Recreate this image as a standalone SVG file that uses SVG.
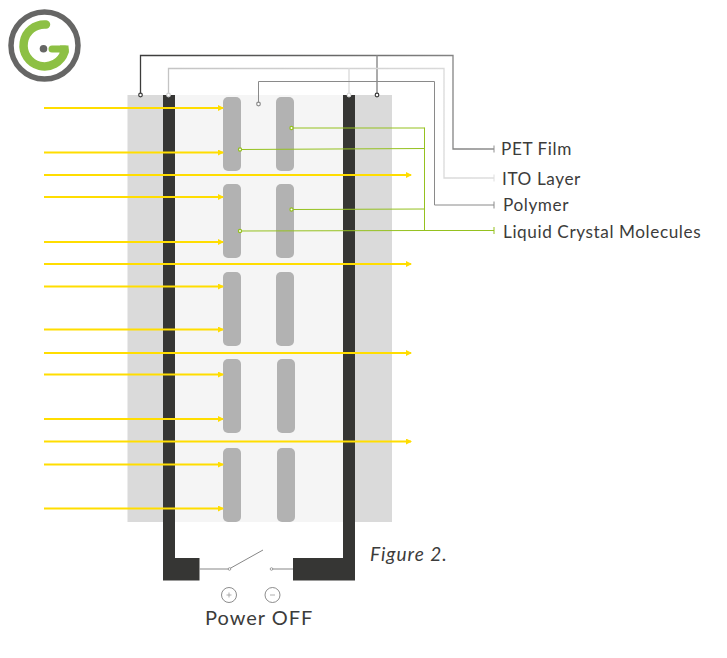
<svg xmlns="http://www.w3.org/2000/svg" width="727" height="658" viewBox="0 0 727 658">
<style>
.ray{stroke:#ffdd00;stroke-width:2;fill:none}
.mol{fill:#b2b2b2}
.dark{fill:#363634}
.g{stroke:#95c11f;stroke-width:1;fill:none}
.lbl{font-family:Lato,"Liberation Sans",sans-serif;font-size:17.2px;letter-spacing:.58px;fill:#3c3c3b}
.pt{fill:#fff;stroke-width:1.2}
</style>
<defs>
<linearGradient id="pet" gradientUnits="userSpaceOnUse" x1="140" y1="0" x2="500" y2="0"><stop offset="0" stop-color="#3c3c3b"/><stop offset="1" stop-color="#8f8f8f"/></linearGradient>
<linearGradient id="ito" gradientUnits="userSpaceOnUse" x1="168" y1="0" x2="500" y2="0"><stop offset="0" stop-color="#c4c4c4"/><stop offset="1" stop-color="#dedede"/></linearGradient>
<marker id="tip" viewBox="0 0 6 6" refX="5" refY="3" markerWidth="6" markerHeight="6" markerUnits="userSpaceOnUse" orient="auto"><path d="M0 0L6 3L0 6Z" fill="#ffdd00"/></marker>
</defs>
<g id="logo">
<circle cx="44.5" cy="45.5" r="33.5" fill="none" stroke="#666665" stroke-width="5.500"/>
<path d="M46 24.500A21 21 0 1 0 64.500 52" fill="none" stroke="#8dc044" stroke-width="8.500" stroke-linecap="round"/>
<path d="M52 49H68.500V52.500H60Z" fill="#8dc044"/>
<path d="M52 49H65" stroke="#8dc044" stroke-width="7" fill="none" stroke-linecap="round"/>
<rect x="60" y="45.500" width="8.500" height="7" fill="#8dc044"/>
<circle cx="43.500" cy="48.800" r="3.800" fill="#666665"/>
</g>
<g id="panel">
<rect x="127.500" y="95" width="264.500" height="427" fill="#dadada"/>
<rect x="175" y="95" width="168" height="427" fill="#f5f5f5"/>
</g>
<g id="molecules">
<rect class="mol" x="223" y="97" width="18" height="74" rx="5"/>
<rect class="mol" x="276" y="97" width="18" height="74" rx="5"/>
<rect class="mol" x="223" y="184" width="18" height="74" rx="5"/>
<rect class="mol" x="276" y="184" width="18" height="74" rx="5"/>
<rect class="mol" x="223" y="272" width="18" height="74" rx="5"/>
<rect class="mol" x="276" y="272" width="18" height="74" rx="5"/>
<rect class="mol" x="223" y="359" width="18" height="74" rx="5"/>
<rect class="mol" x="277" y="359" width="18" height="74" rx="5"/>
<rect class="mol" x="223" y="448" width="18" height="74" rx="5"/>
<rect class="mol" x="277" y="448" width="18" height="74" rx="5"/>
</g>
<g id="electrodes">
<path class="dark" d="M163 95H175V558H199.500V580.500H163Z"/>
<path class="dark" d="M343 95H355V580.500H293V558H343Z"/>
</g>
<g id="rays">
<path class="ray" marker-end="url(#tip)" d="M44 108H223"/>
<path class="ray" marker-end="url(#tip)" d="M44 152.500H223"/>
<path class="ray" marker-end="url(#tip)" d="M44 175H411"/>
<path class="ray" marker-end="url(#tip)" d="M44 197H223"/>
<path class="ray" marker-end="url(#tip)" d="M44 242H223"/>
<path class="ray" marker-end="url(#tip)" d="M44 264H411"/>
<path class="ray" marker-end="url(#tip)" d="M44 286.500H223"/>
<path class="ray" marker-end="url(#tip)" d="M44 329.500H223"/>
<path class="ray" marker-end="url(#tip)" d="M44 353H411"/>
<path class="ray" marker-end="url(#tip)" d="M44 374.500H223"/>
<path class="ray" marker-end="url(#tip)" d="M44 419H223"/>
<path class="ray" marker-end="url(#tip)" d="M44 441.500H411"/>
<path class="ray" marker-end="url(#tip)" d="M44 464.500H223"/>
<path class="ray" marker-end="url(#tip)" d="M44 508.500H223"/>
</g>
<g id="connectors" fill="none">
<path d="M140.500 95V55.500H453V149H494" stroke="url(#pet)" stroke-width="1.300"/>
<path d="M377 95V55.500" stroke="#8f8f8f" stroke-width="1.500"/>
<path d="M494 145.500V152.500" stroke="#8f8f8f"/>
<path d="M168.500 95V68.500H444V178H494" stroke="url(#ito)" stroke-width="1.300"/>
<path d="M349 95V68.500" stroke="#dedede" stroke-width="1.500"/>
<path d="M494 174.500V181.500" stroke="#dedede"/>
<path d="M258.500 104V81.500H434.500V205H494" stroke="#8a8a8a" stroke-width="1"/>
<path d="M494 201.500V208.500" stroke="#8a8a8a"/>
<path class="g" d="M291.500 128H424.500M240 149.500L424.500 148.500M291.500 209.500L424.500 209M240 231L424.500 230.500H494M424.500 127.500V231"/>
<path class="g" d="M494 227V234"/>
<circle class="pt" cx="140.500" cy="95" r="1.800" stroke="#3c3c3b"/>
<circle class="pt" cx="168.500" cy="95" r="1.800" stroke="#d0d0d0"/>
<circle class="pt" cx="349" cy="95" r="1.800" stroke="#dedede"/>
<circle class="pt" cx="377" cy="95" r="1.800" stroke="#3c3c3b"/>
<circle class="pt" cx="258.500" cy="104" r="1.800" stroke="#8a8a8a"/>
<circle class="pt" cx="291.500" cy="128" r="1.600" stroke="#95c11f"/>
<circle class="pt" cx="240" cy="149.500" r="1.600" stroke="#95c11f"/>
<circle class="pt" cx="291.500" cy="209.500" r="1.600" stroke="#95c11f"/>
<circle class="pt" cx="240" cy="231" r="1.600" stroke="#95c11f"/>
</g>
<g id="switch" fill="none" stroke="#878787">
<path d="M199.500 569H229L263 550" stroke-width="1"/>
<path d="M271 569H293" stroke-width="1"/>
<circle cx="229.500" cy="569" r="1.300" fill="#fff" stroke-width=".8"/>
<circle cx="271.500" cy="569" r="1.300" fill="#fff" stroke-width=".8"/>
</g>
<g id="polarity" fill="none" stroke="#6f6f6f" stroke-width=".8">
<circle cx="229" cy="595" r="7.500"/>
<circle cx="272.500" cy="595" r="7.500"/>
<path d="M226.500 595H231.500M229 592.500V597.500" stroke="#9a9a9a"/>
<path d="M270 595H275" stroke="#9a9a9a"/>
</g>
<g id="labels">
<text class="lbl" x="501" y="154.500">PET Film</text>
<text class="lbl" x="502" y="184.500">ITO Layer</text>
<text class="lbl" x="503" y="210.500">Polymer</text>
<text class="lbl" x="503" y="237.500">Liquid Crystal Molecules</text>
<text x="370" y="560.500" font-family="Lato,'Liberation Sans',sans-serif" font-size="19" font-style="italic" letter-spacing="1" fill="#3c3c3b">Figure 2.</text>
<text x="205" y="625" font-family="Lato,'Liberation Sans',sans-serif" font-size="20" letter-spacing="1" fill="#3c3c3b">Power OFF</text>
</g>
</svg>
